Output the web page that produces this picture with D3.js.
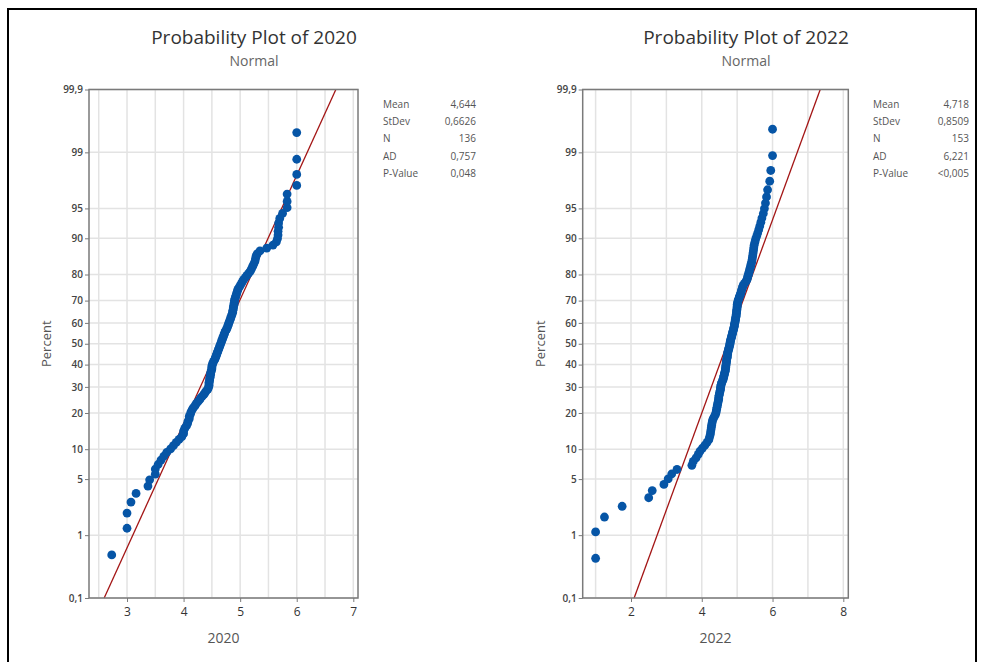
<!DOCTYPE html>
<html>
<head>
<meta charset="utf-8">
<script src="https://cdn.jsdelivr.net/npm/d3@7"></script>
<style>
  body { margin: 0; background: #fff; }
  svg { display: block; font-family: "Open Sans", "Noto Sans", sans-serif; }
</style>
</head>
<body>
<svg id="chart" width="982" height="662"></svg>
<script>
// sorted sample values
var vals2020 = [2.73, 3.0, 3.0, 3.07, 3.16, 3.37, 3.4, 3.5, 3.5, 3.55,
  3.6, 3.65, 3.7, 3.77, 3.82, 3.87, 3.92, 3.97, 4.0, 4.0,
  4.02, 4.05, 4.07, 4.08, 4.1, 4.1, 4.12, 4.13, 4.15, 4.17,
  4.2, 4.22, 4.25, 4.28, 4.3, 4.33, 4.36, 4.38, 4.4, 4.43,
  4.44, 4.45, 4.45, 4.45, 4.46, 4.46, 4.47, 4.47, 4.48, 4.48,
  4.49, 4.5, 4.5, 4.5, 4.51, 4.52, 4.53, 4.55, 4.56, 4.57,
  4.58, 4.59, 4.6, 4.61, 4.62, 4.63, 4.64, 4.65, 4.66, 4.67,
  4.68, 4.69, 4.7, 4.71, 4.72, 4.73, 4.74, 4.76, 4.77, 4.78,
  4.79, 4.8, 4.81, 4.82, 4.83, 4.84, 4.85, 4.86, 4.87, 4.87,
  4.88, 4.88, 4.89, 4.89, 4.9, 4.9, 4.91, 4.92, 4.93, 4.94,
  4.95, 4.96, 4.98, 5.0, 5.02, 5.04, 5.06, 5.09, 5.12, 5.15,
  5.18, 5.2, 5.22, 5.24, 5.26, 5.27, 5.28, 5.3, 5.35, 5.47,
  5.58, 5.64, 5.66, 5.67, 5.67, 5.68, 5.68, 5.7, 5.75, 5.83,
  5.83, 5.83, 6.0, 6.0, 6.0, 6.0]

var vals2022 = [1.0, 1.0, 1.25, 1.75, 2.5, 2.6, 2.93, 3.05, 3.15, 3.3,
  3.72, 3.76, 3.84, 3.9, 3.95, 4.02, 4.09, 4.15, 4.2, 4.22,
  4.24, 4.25, 4.26, 4.27, 4.28, 4.29, 4.3, 4.32, 4.35, 4.38,
  4.4, 4.41, 4.42, 4.43, 4.44, 4.45, 4.46, 4.47, 4.48, 4.48,
  4.49, 4.5, 4.51, 4.52, 4.53, 4.53, 4.54, 4.55, 4.56, 4.58,
  4.6, 4.61, 4.62, 4.63, 4.64, 4.65, 4.66, 4.67, 4.67, 4.68,
  4.68, 4.69, 4.69, 4.7, 4.7, 4.71, 4.72, 4.72, 4.73, 4.73,
  4.74, 4.75, 4.76, 4.77, 4.78, 4.79, 4.8, 4.8, 4.81, 4.82,
  4.83, 4.84, 4.85, 4.86, 4.87, 4.88, 4.89, 4.9, 4.91, 4.92,
  4.92, 4.93, 4.94, 4.95, 4.95, 4.96, 4.97, 4.97, 4.98, 4.98,
  4.99, 4.99, 5.0, 5.0, 5.0, 5.01, 5.02, 5.03, 5.05, 5.06,
  5.08, 5.1, 5.11, 5.12, 5.14, 5.15, 5.17, 5.2, 5.24, 5.27,
  5.29, 5.3, 5.32, 5.33, 5.35, 5.36, 5.38, 5.39, 5.41, 5.42,
  5.43, 5.44, 5.45, 5.46, 5.47, 5.48, 5.5, 5.52, 5.55, 5.58,
  5.61, 5.64, 5.67, 5.7, 5.74, 5.77, 5.8, 5.83, 5.86, 5.92,
  5.95, 6.0, 6.0]

var statLabels = ["Mean", "StDev", "N", "AD", "P-Value"]
var stats2020 = ["4,644", "0,6626", "136", "0,757", "0,048"]
var stats2022 = ["4,718", "0,8509", "153", "6,221", "<0,005"]
var fit2020 = [4.644, 0.6626]   // mean, stdev
var fit2022 = [4.718, 0.8509]

var pctTicks = [0.1, 1, 5, 10, 20, 30, 40, 50, 60, 70, 80, 90, 95, 99, 99.9]
var pctLabels = ["0,1", "1", "5", "10", "20", "30", "40", "50", "60", "70", "80", "90", "95", "99", "99,9"]
var xTicks2020 = [3, 4, 5, 6, 7]
var xGrid2020 = [2.5, 3, 3.5, 4, 4.5, 5, 5.5, 6, 6.5, 7]
var xTicks2022 = [2, 4, 6, 8]
var xGrid2022 = [1, 2, 3, 4, 5, 6, 7, 8]

// inverse normal cdf (Acklam)
function qnorm(p) {
  var a = [-3.969683028665376e+01, 2.209460984245205e+02, -2.759285104469687e+02, 1.383577518672690e+02, -3.066479806614716e+01, 2.506628277459239e+00]
  var b = [-5.447609879822406e+01, 1.615858368580409e+02, -1.556989798598866e+02, 6.680131188771720e+01, -1.328068155288572e+01]
  var c = [-7.784894002430293e-03, -3.223964580411365e-01, -2.400758277161838e+00, -2.549732539343734e+00, 4.374664141464968e+00, 2.938163982698783e+00]
  var d = [7.784695709041462e-03, 3.224671290700398e-01, 2.445134137142996e+00, 3.754408661907416e+00]
  var q, r
  if (p < 0.02425) {
    q = Math.sqrt(-2 * Math.log(p))
    return (((((c[0]*q+c[1])*q+c[2])*q+c[3])*q+c[4])*q+c[5]) / ((((d[0]*q+d[1])*q+d[2])*q+d[3])*q+1)
  }
  if (p > 1 - 0.02425) {
    q = Math.sqrt(-2 * Math.log(1 - p))
    return -(((((c[0]*q+c[1])*q+c[2])*q+c[3])*q+c[4])*q+c[5]) / ((((d[0]*q+d[1])*q+d[2])*q+d[3])*q+1)
  }
  q = p - 0.5
  r = q * q
  return (((((a[0]*r+a[1])*r+a[2])*r+a[3])*r+a[4])*r+a[5])*q / (((((b[0]*r+b[1])*r+b[2])*r+b[3])*r+b[4])*r+1)
}

var svg = d3.select("#chart")

svg.append("rect").attr("width", 982).attr("height", 662).attr("fill", "#fff")
// outer frame of the screenshot
svg.append("rect")
   .attr("x", 8).attr("y", 9).attr("width", 968).attr("height", 670)
   .attr("fill", "none").attr("stroke", "#000").attr("stroke-width", 2)

var panels = [
  { title: "Probability Plot of 2020", xlabel: "2020", values: vals2020, stats: stats2020, fit: fit2020,
    xTicks: xTicks2020, xGrid: xGrid2020, domain: [2.328, 7.083], left: 89, right: 358, cx: 254, statX: 383, statR: 476 },
  { title: "Probability Plot of 2022", xlabel: "2022", values: vals2022, stats: stats2022, fit: fit2022,
    xTicks: xTicks2022, xGrid: xGrid2022, domain: [0.635, 8.141], left: 582.7, right: 848.3, cx: 746, statX: 873, statR: 969 }
]

var plotTop = 89.5, plotBottom = 598
var zMax = qnorm(0.999)

var yScale = d3.scaleLinear()
               .domain([-zMax, zMax])
               .range([plotBottom, plotTop])

panels.forEach(function(p) {
  var g = svg.append("g")

  var xScale = d3.scaleLinear()
                 .domain(p.domain)
                 .range([p.left, p.right])

  // grid
  g.append("g").selectAll("line")
   .data(p.xGrid).enter().append("line")
   .attr("x1", d => xScale(d)).attr("x2", d => xScale(d))
   .attr("y1", plotTop).attr("y2", plotBottom)
   .attr("stroke", "#e3e3e3").attr("stroke-width", 1.5)

  g.append("g").selectAll("line")
   .data(pctTicks).enter().append("line")
   .attr("x1", p.left).attr("x2", p.right)
   .attr("y1", d => yScale(qnorm(d / 100))).attr("y2", d => yScale(qnorm(d / 100)))
   .attr("stroke", "#e3e3e3").attr("stroke-width", 1.5)

  // fitted line
  var zs = [-zMax, zMax]
  g.append("line")
   .attr("x1", xScale(p.fit[0] + p.fit[1] * zs[0])).attr("y1", yScale(zs[0]))
   .attr("x2", xScale(p.fit[0] + p.fit[1] * zs[1])).attr("y2", yScale(zs[1]))
   .attr("stroke", "#a31515").attr("stroke-width", 1.3)

  // points, median-rank plotting positions
  var n = p.values.length
  g.append("g").selectAll("circle")
   .data(p.values).enter().append("circle")
   .attr("cx", d => xScale(d))
   .attr("cy", (d, i) => yScale(qnorm((i + 1 - 0.3) / (n + 0.4))))
   .attr("r", 4.4)
   .attr("fill", "#0655a6")

  // frame
  g.append("rect")
   .attr("x", p.left).attr("y", plotTop)
   .attr("width", p.right - p.left).attr("height", plotBottom - plotTop)
   .attr("fill", "none").attr("stroke", "#7a7a7a").attr("stroke-width", 1.5)

  // axes
  var yAxisGen = d3.axisLeft(yScale)
                   .tickValues(pctTicks.map(d => qnorm(d / 100)))
                   .tickFormat((d, i) => pctLabels[i])
                   .tickSize(4).tickPadding(2)
  var yAxis = g.append("g")
               .attr("transform", `translate(${p.left},0)`)
               .call(yAxisGen)
  yAxis.select(".domain").remove()
  yAxis.selectAll("line").attr("stroke", "#7a7a7a")
  yAxis.selectAll("text").attr("fill", "#444").style("font-size", "10px").style("font-weight", "600")
       .style("font-family", "'Open Sans', sans-serif")

  var xAxisGen = d3.axisBottom(xScale)
                   .tickValues(p.xTicks)
                   .tickFormat(d3.format("d"))
                   .tickSize(4).tickPadding(5)
  var xAxis = g.append("g")
               .attr("transform", `translate(0,${plotBottom})`)
               .call(xAxisGen)
  xAxis.select(".domain").remove()
  xAxis.selectAll("line").attr("stroke", "#7a7a7a")
  xAxis.selectAll("text").attr("fill", "#333").style("font-size", "12px")
       .style("font-family", "'Open Sans', sans-serif")

  // titles
  g.append("text")
   .attr("x", p.cx).attr("y", 44)
   .attr("text-anchor", "middle")
   .attr("fill", "#333").style("font-size", "19px")
   .text(p.title)
  g.append("text")
   .attr("x", p.cx).attr("y", 66)
   .attr("text-anchor", "middle")
   .attr("fill", "#666").style("font-size", "14px")
   .text("Normal")

  g.append("text")
   .attr("x", (p.left + p.right) / 2).attr("y", 643)
   .attr("text-anchor", "middle")
   .attr("fill", "#555").style("font-size", "14px")
   .text(p.xlabel)

  g.append("text")
   .attr("transform", `translate(${p.left - 38},${yScale(0)}) rotate(-90)`)
   .attr("text-anchor", "middle")
   .attr("fill", "#555").style("font-size", "13px")
   .text("Percent")

  // stats box
  var st = g.append("g")
  st.selectAll(".lab").data(statLabels).enter().append("text")
    .attr("class", "lab")
    .attr("x", p.statX).attr("y", (d, i) => 108 + i * 17.2)
    .attr("fill", "#555").style("font-size", "10px")
    .text(d => d)
  st.selectAll(".val").data(p.stats).enter().append("text")
    .attr("class", "val")
    .attr("x", p.statR).attr("y", (d, i) => 108 + i * 17.2)
    .attr("text-anchor", "end")
    .attr("fill", "#555").style("font-size", "10px")
    .text(d => d)
})
</script>
</body>
</html>
